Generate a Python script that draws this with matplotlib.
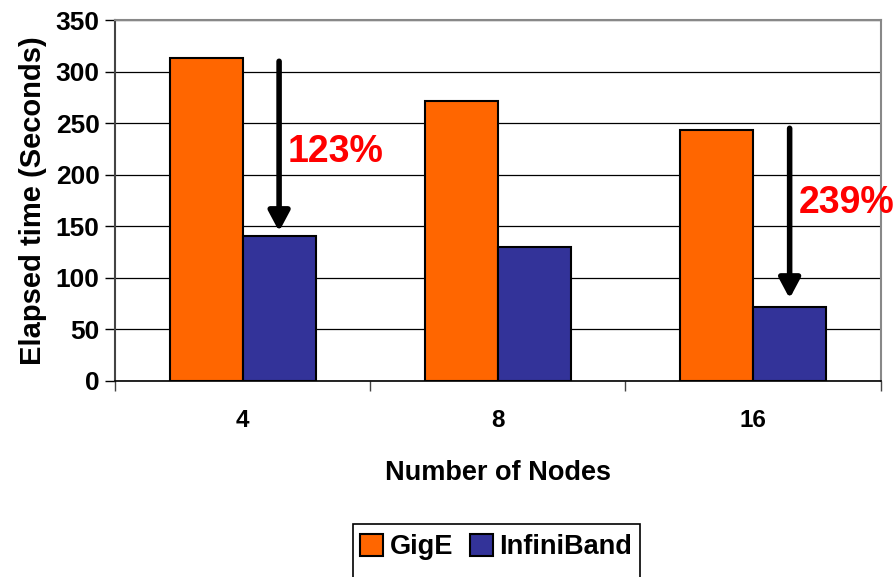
import numpy as np
import matplotlib.pyplot as plt
from matplotlib.patches import Rectangle
from matplotlib.ticker import FixedLocator, NullFormatter

plt.rcParams['font.family'] = ['Liberation Sans', 'DejaVu Sans']
plt.rcParams['font.weight'] = 'bold'

# elapsed time per node count
nodes = ['4', '8', '16']
gige = [313, 271, 243]
infiniband = [141, 130, 72]

# speedup callouts: (group index, arrow start, arrow end, label, label y)
callouts = [
    (0, 310, 145, '123%', 222),
    (2, 245, 80, '239%', 173),
]

orange = '#FF6600'
navy = '#333399'

fig = plt.figure(figsize=(8.96, 5.77), dpi=100)
ax = fig.add_axes([0.1283, 0.3397, 0.8547, 0.6256])

x = np.arange(len(nodes))
w = 0.286
ax.bar(x - w / 2, gige, w, color=orange, edgecolor='black', linewidth=1.5,
       label='GigE', zorder=3)
ax.bar(x + w / 2, infiniband, w, color=navy, edgecolor='black', linewidth=1.5,
       label='InfiniBand', zorder=3)

ax.set_xlim(-0.5, len(nodes) - 0.5)
ax.set_ylim(0, 350)
ax.set_yticks(np.arange(0, 351, 50))
ax.yaxis.grid(True, color='black', linewidth=0.9, zorder=0)
ax.set_axisbelow(True)

# category labels centred, tick marks on the group boundaries
ax.set_xticks(x)
ax.set_xticklabels(nodes, fontsize=17.5, fontweight='bold')
ax.tick_params(axis='x', which='major', length=0, pad=20)
ax.xaxis.set_minor_locator(FixedLocator(np.arange(-0.5, len(nodes), 1.0)))
ax.xaxis.set_minor_formatter(NullFormatter())
ax.tick_params(axis='x', which='minor', length=7, width=1, color='#444444')
ax.tick_params(axis='y', length=7, width=1, labelsize=19, pad=4)
for lbl in ax.get_yticklabels():
    lbl.set_fontweight('bold')

for side in ['top', 'right', 'left']:
    ax.spines[side].set_color('#888888')
    ax.spines[side].set_linewidth(1.5)
ax.spines['left'].set_color('#444444')
ax.spines['bottom'].set_linewidth(1.2)

ax.set_ylabel('Elapsed time (Seconds)', fontsize=21, fontweight='bold',
              labelpad=6)
ax.set_xlabel('Number of Nodes', fontsize=19.5, fontweight='bold', labelpad=20)

for idx, y0, y1, txt, ty in callouts:
    ax.annotate('', xy=(idx + w / 2, y1), xytext=(idx + w / 2, y0),
                arrowprops=dict(arrowstyle='-|>,head_width=0.32,head_length=0.6',
                                mutation_scale=20, color='black', lw=4,
                                shrinkA=0, shrinkB=0),
                zorder=5)
    ax.text(idx + w / 2 + 0.035, ty, txt, color='#FF0000', fontsize=27,
            fontweight='bold', va='center', ha='left', clip_on=False, zorder=5)

# legend box runs off the bottom edge of the figure
leg = fig.legend(loc='center', bbox_to_anchor=(0.554, 0.052), ncol=2,
                 fontsize=19.5, frameon=False,
                 handlelength=0.85, handleheight=0.85, handletextpad=0.25,
                 columnspacing=0.6, borderpad=0, borderaxespad=0)
fig.patches.append(Rectangle((353 / 896, -0.05), 287 / 896, 0.05 + 53 / 577,
                             transform=fig.transFigure, fill=False,
                             edgecolor='black', linewidth=1.2))

fig.savefig('out.png', dpi=100, facecolor='white')
